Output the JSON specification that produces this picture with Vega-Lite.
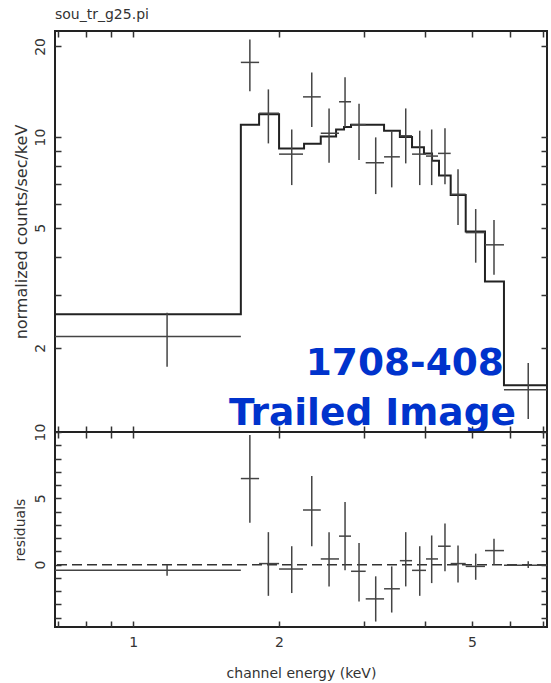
{
  "$schema": "https://vega.github.io/schema/vega-lite/v6.json",
  "background": "white",
  "padding": {"left": 12, "top": 7, "right": 0, "bottom": 0},
  "bounds": "flush",
  "spacing": 0,
  "config": {
    "view": {"stroke": "#222", "strokeWidth": 2},
    "axis": {
      "domain": false, "grid": false,
      "tickColor": "#333", "tickWidth": 1.5, "tickSize": -6,
      "labelFont": "DejaVu Sans", "labelFontSize": 14, "labelColor": "#333",
      "titleFont": "DejaVu Sans", "titleFontSize": 14, "titleFontWeight": "normal", "titleColor": "#333",
      "labelFlush": false, "labelOverlap": false
    }
  },
  "datasets": {
    "bins": [
      {"E": 1.175, "Elo": 0.69, "Ehi": 1.668, "rate": 2.18, "lo": 1.73, "hi": 2.61, "res": -0.43, "rlo": -0.83, "rhi": -0.03},
      {"E": 1.741, "Elo": 1.668, "Ehi": 1.819, "rate": 17.7, "lo": 14.2, "hi": 21.1, "res": 6.49, "rlo": 3.16, "rhi": 9.77},
      {"E": 1.901, "Elo": 1.819, "Ehi": 2.0, "rate": 12.0, "lo": 9.53, "hi": 14.4, "res": 0.08, "rlo": -2.35, "rhi": 2.45},
      {"E": 2.124, "Elo": 2.0, "Ehi": 2.241, "rate": 8.78, "lo": 6.93, "hi": 10.6, "res": -0.33, "rlo": -2.14, "rhi": 1.39},
      {"E": 2.336, "Elo": 2.241, "Ehi": 2.438, "rate": 13.6, "lo": 10.8, "hi": 16.4, "res": 4.12, "rlo": 1.39, "rhi": 6.69},
      {"E": 2.536, "Elo": 2.438, "Ehi": 2.659, "rate": 10.3, "lo": 8.22, "hi": 12.45, "res": 0.43, "rlo": -1.64, "rhi": 2.45},
      {"E": 2.736, "Elo": 2.659, "Ehi": 2.815, "rate": 13.1, "lo": 10.8, "hi": 15.8, "res": 2.15, "rlo": -0.43, "rhi": 4.72},
      {"E": 2.924, "Elo": 2.815, "Ehi": 3.018, "rate": 11.0, "lo": 8.39, "hi": 12.9, "res": -0.5, "rlo": -2.78, "rhi": 1.64},
      {"E": 3.165, "Elo": 3.018, "Ehi": 3.293, "rate": 8.22, "lo": 6.47, "hi": 9.98, "res": -2.58, "rlo": -4.29, "rhi": -0.88},
      {"E": 3.415, "Elo": 3.293, "Ehi": 3.55, "rate": 8.6, "lo": 6.81, "hi": 10.5, "res": -1.82, "rlo": -3.61, "rhi": -0.13},
      {"E": 3.65, "Elo": 3.55, "Ehi": 3.761, "rate": 10.1, "lo": 8.18, "hi": 12.45, "res": 0.3, "rlo": -1.64, "rhi": 2.45},
      {"E": 3.901, "Elo": 3.761, "Ehi": 4.019, "rate": 8.78, "lo": 6.93, "hi": 10.5, "res": -0.43, "rlo": -2.35, "rhi": 1.39},
      {"E": 4.129, "Elo": 4.019, "Ehi": 4.255, "rate": 8.65, "lo": 6.93, "hi": 10.6, "res": 0.43, "rlo": -1.39, "rhi": 2.2},
      {"E": 4.398, "Elo": 4.255, "Ehi": 4.519, "rate": 8.83, "lo": 6.98, "hi": 10.7, "res": 1.39, "rlo": -0.5, "rhi": 3.1},
      {"E": 4.679, "Elo": 4.519, "Ehi": 4.853, "rate": 6.46, "lo": 5.11, "hi": 7.82, "res": 0.08, "rlo": -1.34, "rhi": 1.44},
      {"E": 5.089, "Elo": 4.853, "Ehi": 5.318, "rate": 4.82, "lo": 3.83, "hi": 5.77, "res": -0.13, "rlo": -1.14, "rhi": 0.83},
      {"E": 5.551, "Elo": 5.318, "Ehi": 5.82, "rate": 4.39, "lo": 3.49, "hi": 5.31, "res": 1.06, "rlo": 0.0, "rhi": 1.95},
      {"E": 6.531, "Elo": 5.82, "Ehi": 7.14, "rate": 1.45, "lo": 1.16, "hi": 1.78, "res": -0.05, "rlo": -0.25, "rhi": 0.25}
    ],
    "model": [
      {"E": 0.69, "m": 2.58},
      {"E": 1.668, "m": 11.0},
      {"E": 1.819, "m": 11.9},
      {"E": 2.0, "m": 9.17},
      {"E": 2.252, "m": 9.5},
      {"E": 2.438, "m": 10.05},
      {"E": 2.622, "m": 10.6},
      {"E": 2.723, "m": 10.8},
      {"E": 2.815, "m": 11.0},
      {"E": 3.293, "m": 10.5},
      {"E": 3.55, "m": 10.0},
      {"E": 3.761, "m": 9.25},
      {"E": 3.98, "m": 8.83},
      {"E": 4.136, "m": 8.35},
      {"E": 4.275, "m": 7.45},
      {"E": 4.519, "m": 6.43},
      {"E": 4.853, "m": 4.86},
      {"E": 5.318, "m": 3.32},
      {"E": 5.82, "m": 1.5},
      {"E": 7.14, "m": 1.5}
    ],
    "labels": [
      {"label": "1708-408", "x": 5.82, "y": 1.62},
      {"label": "Trailed Image", "x": 6.16, "y": 1.11}
    ],
    "zero": [{"r": 0}]
  },
  "vconcat": [
    {
      "width": 492,
      "height": 401,
      "title": {"text": "sou_tr_g25.pi", "anchor": "start", "frame": "group", "fontSize": 14, "fontWeight": "normal", "font": "DejaVu Sans", "color": "#333", "offset": 8},
      "layer": [
        {
          "data": {"name": "model"},
          "mark": {"type": "line", "interpolate": "step-after", "color": "#222", "strokeWidth": 2},
          "encoding": {
            "x": {"field": "E", "type": "quantitative", "scale": {"type": "log", "domain": [0.69, 7.14], "nice": false},
                  "axis": {"orient": "bottom", "values": [0.7, 0.8, 0.9, 1, 2, 3, 4, 5, 6, 7], "labels": false, "title": null}},
            "y": {"field": "m", "type": "quantitative", "scale": {"type": "log", "domain": [1.05, 22.5], "nice": false},
                  "axis": {"orient": "left", "values": [2, 3, 4, 5, 6, 7, 8, 9, 10, 20], "format": "~g",
                           "labelExpr": "datum.value == 2 || datum.value == 5 || datum.value == 10 || datum.value == 20 ? datum.label : ''",
                           "labelAngle": -90, "labelPadding": 14, "title": "normalized counts/sec/keV", "titleFontSize": 16, "titlePadding": 4}}
          }
        },
        {
          "data": {"name": "bins"},
          "mark": {"type": "rule", "color": "#444", "strokeWidth": 1.5},
          "encoding": {
            "x": {"field": "Elo", "type": "quantitative", "scale": {"type": "log", "domain": [0.69, 7.14], "nice": false},
                  "axis": {"orient": "top", "values": [0.7, 0.8, 0.9, 1, 2, 3, 4, 5, 6, 7], "labels": false, "title": null}},
            "x2": {"field": "Ehi"},
            "y": {"field": "rate", "type": "quantitative", "scale": {"type": "log", "domain": [1.05, 22.5], "nice": false},
                  "axis": {"orient": "right", "values": [2, 3, 4, 5, 6, 7, 8, 9, 10, 20], "labels": false, "title": null}}
          }
        },
        {
          "data": {"name": "bins"},
          "mark": {"type": "rule", "color": "#444", "strokeWidth": 1.5},
          "encoding": {
            "x": {"field": "E", "type": "quantitative", "axis": null},
            "y": {"field": "lo", "type": "quantitative", "axis": null},
            "y2": {"field": "hi"}
          }
        },
        {
          "data": {"name": "labels"},
          "mark": {"type": "text", "align": "right", "baseline": "alphabetic", "font": "DejaVu Sans", "fontWeight": "bold", "fontSize": 37.5, "color": "#0033cc"},
          "encoding": {
            "x": {"field": "x", "type": "quantitative", "axis": null},
            "y": {"field": "y", "type": "quantitative", "axis": null},
            "text": {"field": "label"}
          }
        }
      ],
      "resolve": {"axis": {"x": "independent", "y": "independent"}}
    },
    {
      "width": 492,
      "height": 195,
      "layer": [
        {
          "data": {"name": "zero"},
          "mark": {"type": "rule", "color": "#333", "strokeWidth": 1.5, "strokeDash": [10, 5]},
          "encoding": {
            "y": {"field": "r", "type": "quantitative", "scale": {"domain": [-4.7, 10], "nice": false, "zero": false}, "axis": null}
          }
        },
        {
          "data": {"name": "bins"},
          "mark": {"type": "rule", "color": "#444", "strokeWidth": 1.5},
          "encoding": {
            "x": {"field": "Elo", "type": "quantitative", "scale": {"type": "log", "domain": [0.69, 7.14], "nice": false},
                  "axis": {"orient": "bottom", "values": [0.7, 0.8, 0.9, 1, 2, 3, 4, 5, 6, 7], "format": "~g",
                           "labelExpr": "datum.value == 1 || datum.value == 2 || datum.value == 5 ? datum.label : ''",
                           "labelPadding": 14, "title": "channel energy (keV)", "titlePadding": 17}},
            "x2": {"field": "Ehi"},
            "y": {"field": "res", "type": "quantitative", "scale": {"domain": [-4.7, 10], "nice": false, "zero": false},
                  "axis": {"orient": "left", "values": [-4, -3, -2, -1, 0, 1, 2, 3, 4, 5, 6, 7, 8, 9, 10],
                           "labelExpr": "datum.value == 0 || datum.value == 5 || datum.value == 10 ? datum.label : ''",
                           "labelAngle": -90, "labelPadding": 14, "title": "residuals", "titlePadding": 6}}
          }
        },
        {
          "data": {"name": "bins"},
          "mark": {"type": "rule", "color": "#444", "strokeWidth": 1.5},
          "encoding": {
            "x": {"field": "E", "type": "quantitative", "scale": {"type": "log", "domain": [0.69, 7.14], "nice": false},
                  "axis": {"orient": "top", "values": [0.7, 0.8, 0.9, 1, 2, 3, 4, 5, 6, 7], "labels": false, "title": null}},
            "y": {"field": "rlo", "type": "quantitative", "scale": {"domain": [-4.7, 10], "nice": false, "zero": false},
                  "axis": {"orient": "right", "values": [-4, -3, -2, -1, 0, 1, 2, 3, 4, 5, 6, 7, 8, 9, 10], "labels": false, "title": null}},
            "y2": {"field": "rhi"}
          }
        }
      ],
      "resolve": {"axis": {"x": "independent", "y": "independent"}}
    }
  ],
  "resolve": {"scale": {"x": "independent", "y": "independent"}}
}
